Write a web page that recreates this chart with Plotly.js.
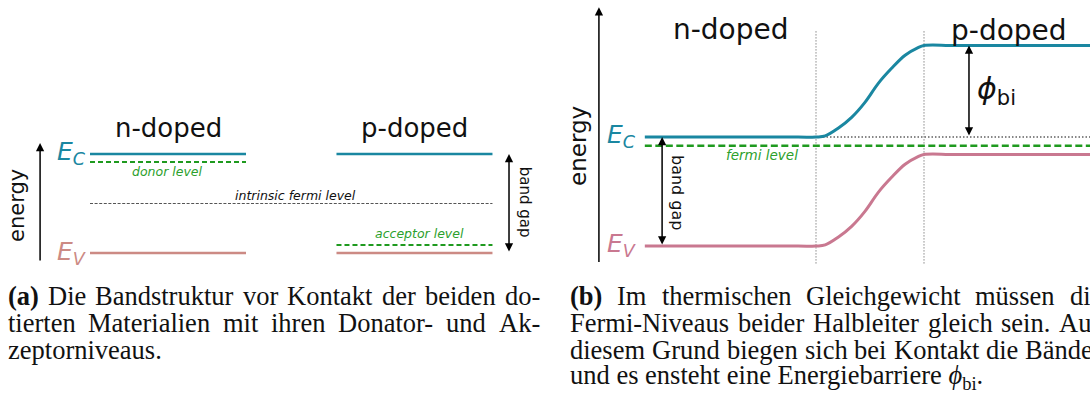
<!DOCTYPE html>
<html>
<head>
<meta charset="utf-8">
<script src="https://cdn.plot.ly/plotly-3.0.1.min.js"></script>
<style>
  html, body { margin: 0; padding: 0; background: #ffffff; }
  #chart { width: 1090px; height: 396px; }
</style>
</head>
<body>
<div id="chart"></div>
<script>
// ---- (a) separate semiconductors: energies relative to E_V (band gap = 1) ----
const bandGap = 1.0;
const valenceBand = 0.0;
const donorLevel = 0.92;
const acceptorLevel = 0.08;
const intrinsicLevel = 0.5;
const nBlockX = [0, 1];
const pBlockX = [1.58, 2.58];

// ---- (b) pn junction in equilibrium: band bending across the depletion zone ----
const junctionX = [-4.17, -1.6, -1, -0.83, -0.59, -0.34, -0.09, 0.15, 0.40, 0.65, 0.89, 1, 1.6, 4.6];
const bandBending = [0, 0, 0, 0.01, 0.08, 0.18, 0.32, 0.49, 0.63, 0.75, 0.82, 0.84, 0.84, 0.84];
const fermiLevel = 0.92;
const depletionEdges = [-1, 1];
const builtInPotential = 0.84;

// ---- caption lines (justified lines flagged) ----
const captionA = [
  "<b>(a)</b> Die Bandstruktur vor Kontakt der beiden do-",
  "tierten Materialien mit ihren Donator- und Ak-",
  "zeptorniveaus."
];
const captionAJustified = [true, true, false];
const captionB = [
  "<b>(b)</b> Im thermischen Gleichgewicht müssen die",
  "Fermi-Niveaus beider Halbleiter gleich sein. Aus",
  "diesem Grund biegen sich bei Kontakt die Bänder",
  "und es ensteht eine Energiebarriere <i>ϕ</i><sub>bi</sub>."
];
const captionBJustified = [true, true, true, false];

const TEAL = "#1a87a1";
const ROSE_A = "#cc8a84";
const ROSE_B = "#c97890";
const GREEN = "#1f9a1f";
const GREEN_TXT = "#2ca02c";
const FONT = "DejaVu Sans, sans-serif";

function seg(x, y, color, width, dash, xa, ya) {
  return { x: x, y: y, type: "scatter", mode: "lines", xaxis: xa, yaxis: ya,
           line: { color: color, width: width, dash: dash || "solid" },
           hoverinfo: "skip", showlegend: false };
}
function curve(x, y, color, xa, ya) {
  return { x: x, y: y, type: "scatter", mode: "lines", xaxis: xa, yaxis: ya,
           line: { color: color, width: 3, shape: "spline", smoothing: 1 },
           hoverinfo: "skip", showlegend: false };
}

const conduction = valenceBand + bandGap;
const evB = bandBending.map(v => valenceBand + v);
const ecB = bandBending.map(v => valenceBand + bandGap + v);
const xEnd = junctionX[junctionX.length - 1];

const traces = [
  // panel (a)
  seg(nBlockX, [conduction, conduction], TEAL, 2.6, null, "x", "y"),
  seg(nBlockX, [donorLevel, donorLevel], GREEN, 2, "5px,3px", "x", "y"),
  seg(nBlockX, [valenceBand, valenceBand], ROSE_A, 2.6, null, "x", "y"),
  seg(pBlockX, [conduction, conduction], TEAL, 2.6, null, "x", "y"),
  seg(pBlockX, [acceptorLevel, acceptorLevel], GREEN, 2, "5px,3px", "x", "y"),
  seg(pBlockX, [valenceBand, valenceBand], ROSE_A, 2.6, null, "x", "y"),
  seg([nBlockX[0], pBlockX[1]], [intrinsicLevel, intrinsicLevel], "#555555", 1.1, "3px,1.6px", "x", "y"),
  // panel (b)
  seg([depletionEdges[0], depletionEdges[0]], [-0.16, 1.98], "#8a8a8a", 1.2, "1.2px,1.8px", "x2", "y2"),
  seg([depletionEdges[1], depletionEdges[1]], [-0.16, 1.98], "#8a8a8a", 1.2, "1.2px,1.8px", "x2", "y2"),
  seg([depletionEdges[0], xEnd], [conduction, conduction], "#111111", 1.2, "1.5px,2px", "x2", "y2"),
  seg([junctionX[0], xEnd], [fermiLevel, fermiLevel], GREEN, 2.4, "7px,3.5px", "x2", "y2"),
  curve(junctionX, ecB, TEAL, "x2", "y2"),
  curve(junctionX, evB, ROSE_B, "x2", "y2")
];

function label(text, x, y, opts, xr, yr) {
  return Object.assign({ text: text, x: x, y: y, xref: xr, yref: yr, showarrow: false,
                         font: { family: FONT, size: 14, color: "#111111" } }, opts);
}
function arrow(x, y, ax, ay, xr, yr, both) {
  return { x: x, y: y, ax: ax, ay: ay, xref: xr, yref: yr, axref: xr, ayref: yr, text: "",
           showarrow: true, arrowhead: 2, startarrowhead: 2, arrowsize: 1.1, startarrowsize: 1.1,
           arrowwidth: 1.5, arrowcolor: "#000000", arrowside: both ? "end+start" : "end",
           standoff: 0, startstandoff: 0 };
}

const ann = [
  // panel (a)
  label("n-doped", 0.5, 1.26, { font: { family: FONT, size: 26, color: "#111" } }, "x", "y"),
  label("p-doped", 2.08, 1.26, { font: { family: FONT, size: 26, color: "#111" } }, "x", "y"),
  label("<i>E</i><sub><i>C</i></sub>", -0.012, 1.01, { xanchor: "right", font: { family: FONT, size: 25, color: TEAL } }, "x", "y"),
  label("<i>E</i><sub><i>V</i></sub>", -0.012, 0.0, { xanchor: "right", font: { family: FONT, size: 25, color: ROSE_A } }, "x", "y"),
  label("<i>donor level</i>", 0.494, 0.82, { font: { family: FONT, size: 12.5, color: GREEN_TXT } }, "x", "y"),
  label("<i>acceptor level</i>", 2.11, 0.2, { font: { family: FONT, size: 12.5, color: GREEN_TXT } }, "x", "y"),
  label("<i>intrinsic fermi level</i>", 1.32, 0.576, { font: { family: FONT, size: 12.5, color: "#111" } }, "x", "y"),
  label("band gap", 2.79, 0.515, { textangle: 90, font: { family: FONT, size: 15, color: "#111" } }, "x", "y"),
  label("energy", -0.468, 0.485, { textangle: -90, font: { family: FONT, size: 21, color: "#111" } }, "x", "y"),
  arrow(-0.32, 1.11, -0.32, -0.09, "x", "y", false),
  arrow(2.686, conduction, 2.686, valenceBand, "x", "y", true),
  // panel (b)
  label("n-doped", -2.574, 1.99, { font: { family: FONT, size: 28, color: "#111" } }, "x2", "y2"),
  label("p-doped", 2.574, 1.98, { font: { family: FONT, size: 28, color: "#111" } }, "x2", "y2"),
  label("<i>E</i><sub><i>C</i></sub>", -4.29, 1.01, { xanchor: "right", font: { family: FONT, size: 25, color: TEAL } }, "x2", "y2"),
  label("<i>E</i><sub><i>V</i></sub>", -4.29, 0.01, { xanchor: "right", font: { family: FONT, size: 25, color: ROSE_B } }, "x2", "y2"),
  label("<i>fermi level</i>", -2.0, 0.835, { font: { family: FONT, size: 13.5, color: GREEN_TXT } }, "x2", "y2"),
  label("band gap", -3.555, 0.495, { textangle: 90, font: { family: FONT, size: 16, color: "#111" } }, "x2", "y2"),
  label("energy", -5.41, 0.917, { textangle: -90, font: { family: FONT, size: 23, color: "#111" } }, "x2", "y2"),
  label("<i>ϕ</i><sub>bi</sub>", 1.944, 1.43, { xanchor: "left", font: { family: FONT, size: 30, color: "#111" } }, "x2", "y2"),
  arrow(-5.02, 2.19, -5.02, -0.16, "x2", "y2", false),
  arrow(-3.85, conduction, -3.85, valenceBand, "x2", "y2", true),
  arrow(1.833, conduction + builtInPotential, 1.833, conduction, "x2", "y2", true)
];

// ---- captions: justified lines are laid out word by word ----
const W = 1090, H = 396;
const CAP_SIZE = 26.5;
const CAP_FAMILY = '"Liberation Serif", "DejaVu Serif", serif';
const CAP_FONT = { family: CAP_FAMILY, size: CAP_SIZE, color: "#111111" };
const colWidth = 532;
const capBaseY = 296, capStep = 27;
const ctx = document.createElement("canvas").getContext("2d");
function wordWidth(w) {
  const bold = w.indexOf("<b>") >= 0;
  ctx.font = (bold ? "bold " : "") + CAP_SIZE + "px " + CAP_FAMILY;
  return ctx.measureText(w.replace(/<[^>]+>/g, "")).width;
}
function addCaption(lines, justified, left) {
  lines.forEach((line, i) => {
    const yPaper = 1 - (capBaseY + i * capStep) / H;
    const base = { xref: "paper", yref: "paper", y: yPaper, xanchor: "left", yanchor: "middle",
                   showarrow: false, font: CAP_FONT, borderpad: 0, borderwidth: 0 };
    if (!justified[i]) {
      ann.push(Object.assign({ text: line, x: left / W }, base));
      return;
    }
    const words = line.split(" ");
    const widths = words.map(wordWidth);
    const total = widths.reduce((a, b) => a + b, 0);
    const gap = (colWidth - total) / (words.length - 1);
    let cursor = left;
    words.forEach((w, k) => {
      ann.push(Object.assign({ text: w, x: cursor / W }, base));
      cursor += widths[k] + gap;
    });
  });
}
addCaption(captionA, captionAJustified, 8);
addCaption(captionB, captionBJustified, 570);

const hidden = { visible: false, showgrid: false, zeroline: false, fixedrange: true };
const layout = {
  width: W, height: H,
  margin: { l: 0, r: 0, t: 0, b: 0 },
  paper_bgcolor: "#ffffff", plot_bgcolor: "#ffffff",
  showlegend: false,
  xaxis: Object.assign({ domain: [0, 0.5], range: [-0.5769, 2.9167] }, hidden),
  yaxis: Object.assign({ domain: [0, 1], range: [-1.4444, 2.5556] }, hidden),
  xaxis2: Object.assign({ domain: [0.5, 1], range: [-6.0185, 4.0741], anchor: "y2" }, hidden),
  yaxis2: Object.assign({ domain: [0, 1], range: [-1.3761, 2.2569], anchor: "x2" }, hidden),
  annotations: ann
};

Plotly.newPlot("chart", traces, layout, { staticPlot: true, displayModeBar: false });
</script>
</body>
</html>
